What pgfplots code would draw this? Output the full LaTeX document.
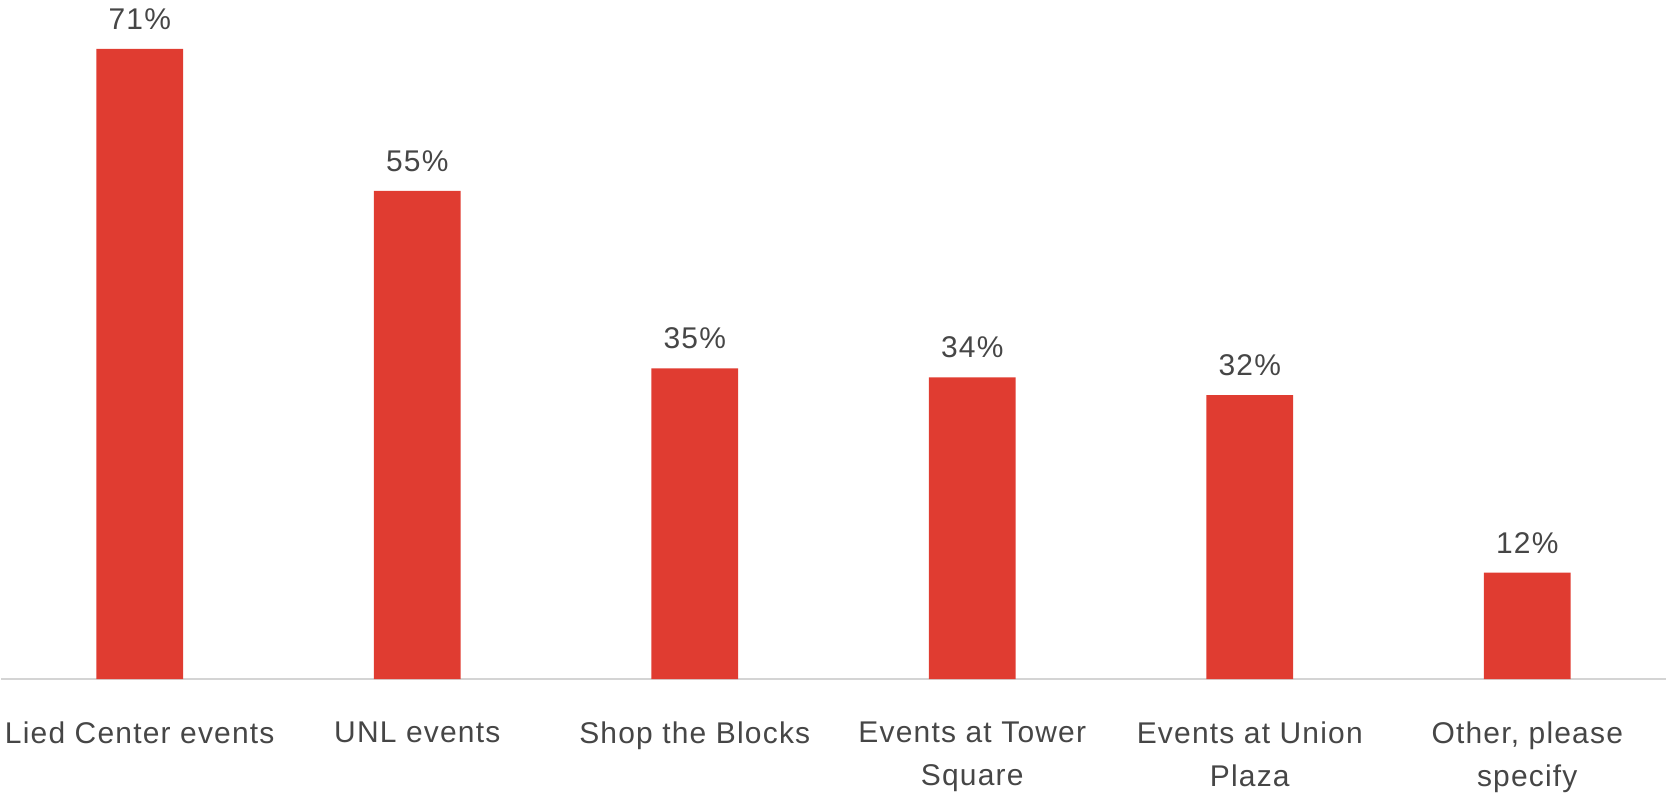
\documentclass[border=0pt]{standalone}
\usepackage{pgfplots}
\pgfplotsset{compat=1.18}
\usepackage{fontspec}
\setmainfont[LetterSpace=4]{Liberation Sans}
\definecolor{barred}{HTML}{E03C31}
\definecolor{txt}{HTML}{464646}
\definecolor{axgray}{HTML}{D4D4D4}
\begin{document}
\begin{tikzpicture}
\begin{axis}[
  name=ax,
  width=833.5pt, height=340pt, scale only axis,
  xmin=-0.5, xmax=5.5, ymin=0, ymax=76.5,
  hide y axis,
  axis x line*=bottom,
  x axis line style={draw=axgray, line width=1pt, -},
  xtick={0,1,2,3,4,5},
  xticklabels={Lied Center events, UNL events, Shop the Blocks, Events at Tower\\Square, Events at Union\\Plaza, {Other, please\\specify}},
  major tick length=0pt,
  xtick style={draw=none},
  xticklabel style={anchor=north, inner sep=0pt, yshift=-21.2pt, align=center, text=txt, font=\fontsize{15}{21.5}\selectfont},
  clip=false,
]
\addplot[ybar, bar width=43.5pt, fill=barred, draw=none,
  nodes near coords={\pgfmathprintnumber[assume math mode=true]{\pgfplotspointmeta}\%},
  every node near coord/.append style={anchor=base, inner sep=0pt, yshift=9.8pt, text=txt, font=\fontsize{15}{17}\selectfont}
] coordinates {(0,71) (1,55) (2,35) (3,34) (4,32) (5,12)};
\end{axis}
\path (ax.south west) ++(0,-59.5pt) coordinate (b1);
\path (ax.north east) coordinate (t1);
\useasboundingbox (b1) rectangle (t1);
\end{tikzpicture}
\end{document}
